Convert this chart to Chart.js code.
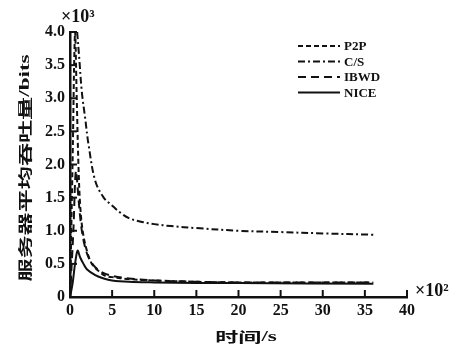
<!DOCTYPE html>
<html><head><meta charset="utf-8">
<script src="https://cdn.jsdelivr.net/npm/chart.js@4.4.1/dist/chart.umd.min.js"></script>
<style>html,body{margin:0;padding:0;background:#fff}#wrap{width:468px;height:351px}</style>
</head><body><div id="wrap"><canvas id="c" width="468" height="351"></canvas></div>
<script>
// time in units of 10^2 s, throughput in units of 10^3 bits
const p2pX  = [0, 0.3, 0.6, 0.8, 1.0, 1.2, 1.5, 2.0, 2.6, 3.5, 4.2, 5, 7, 10, 15, 20, 36];
const p2pY  = [0, 2.0, 4.0, 3.0, 2.0, 1.4, 1.0, 0.7, 0.5, 0.38, 0.32, 0.3, 0.27, 0.25, 0.23, 0.22, 0.22];
const csX   = [0.85, 1.1, 1.4, 1.8, 2.2, 3.0, 4.0, 5.0, 6.0, 7.0, 8.3, 10, 12, 15, 20, 25, 30, 36];
const csY   = [4.0, 3.6, 3.1, 2.7, 2.3, 1.75, 1.5, 1.38, 1.27, 1.19, 1.14, 1.1, 1.07, 1.04, 1.0, 0.98, 0.96, 0.94];
const ibwdX = [0, 0.4, 0.7, 1.0, 1.3, 1.7, 2.2, 3, 4, 5, 7, 10, 15, 20, 36];
const ibwdY = [0, 1.0, 1.9, 1.5, 1.1, 0.8, 0.6, 0.45, 0.36, 0.32, 0.28, 0.25, 0.23, 0.22, 0.22];
const niceX = [0, 0.3, 0.6, 0.9, 1.2, 1.6, 2, 3, 4, 5, 7, 10, 15, 20, 36];
const niceY = [0, 0.2, 0.5, 0.7, 0.6, 0.5, 0.42, 0.33, 0.28, 0.25, 0.23, 0.22, 0.21, 0.21, 0.2];
const seriesNames = ['P2P', 'C/S', 'IBWD', 'NICE'];
const xTicks = [0, 5, 10, 15, 20, 25, 30, 35, 40];
const yTicks = [0, 0.5, 1.0, 1.5, 2.0, 2.5, 3.0, 3.5, 4.0];
const xTitle = ['时间', '/s'];
const yTitle = ['服务器平均吞吐量', '/bits'];

const pts = (xs, ys) => xs.map((x, i) => ({x, y: ys[i]}));
const serif = '"Liberation Serif", "Times New Roman", serif';
const cjk = '"Noto Sans CJK SC", sans-serif';

const dashes = [[5,3],[7,3,2,3],[8,5],[]];
const ds = [pts(p2pX,p2pY), pts(csX,csY), pts(ibwdX,ibwdY), pts(niceX,niceY)].map((d,i)=>({
  label: seriesNames[i], data: d, borderColor:'#111', borderWidth: 2,
  borderDash: dashes[i], pointRadius:0, tension:0.35, fill:false
}));

function drawTitle(ctx, parts, cx, cy, rot){
  ctx.save();
  ctx.translate(cx, cy); ctx.rotate(rot); ctx.scale(1.65, 1);
  ctx.textBaseline='middle'; ctx.textAlign='left';
  const fonts = ['bold 14px '+cjk, 'bold 14px '+serif];
  let widths = parts.map((p,i)=>{ ctx.font=fonts[i]; return ctx.measureText(p).width; });
  let total = widths.reduce((a,b)=>a+b,0);
  let x = -total/2;
  parts.forEach((p,i)=>{ ctx.font=fonts[i]; ctx.fillText(p, x, 0); x += widths[i]; });
  ctx.restore();
}

const inwardTicks = {
  id:'inwardTicks',
  afterDraw(chart){
    const ctx = chart.ctx, a = chart.chartArea;
    ctx.save(); ctx.strokeStyle='#111'; ctx.lineWidth=2; ctx.setLineDash([]);
    const xs = chart.scales.x, ys = chart.scales.y;
    xs.ticks.forEach((t,i)=>{ const px = xs.getPixelForTick(i); ctx.beginPath(); ctx.moveTo(px,a.bottom); ctx.lineTo(px,a.bottom-7); ctx.stroke(); });
    ys.ticks.forEach((t,i)=>{ const py = ys.getPixelForTick(i); ctx.beginPath(); ctx.moveTo(a.left,py); ctx.lineTo(a.left+7,py); ctx.stroke(); });
    // multipliers
    ctx.fillStyle='#111'; ctx.font='bold 18px '+serif; ctx.textBaseline='alphabetic'; ctx.textAlign='left';
    ctx.fillText('×10³', a.left-9, a.top-10);
    ctx.fillText('×10²', a.right+8, a.bottom-1);
    // axis titles
    drawTitle(ctx, yTitle, 25, 168, -Math.PI/2);
    drawTitle(ctx, xTitle, 246, 337, 0);
    // legend
    ctx.font='bold 13px '+serif; ctx.textBaseline='middle';
    const lx = 298, ly = 46, lh = 15.5;
    chart.data.datasets.forEach((d,i)=>{
      const y = ly + i*lh;
      ctx.setLineDash(d.borderDash); ctx.lineWidth=2;
      ctx.beginPath(); ctx.moveTo(lx,y); ctx.lineTo(lx+42,y); ctx.stroke();
      ctx.setLineDash([]);
      ctx.fillText(d.label, lx+46, y+1);
    });
    ctx.restore();
  }
};

new Chart(document.getElementById('c'), {
  type:'line',
  data:{datasets: ds},
  options:{
    responsive:false, animation:false, events:[],
    layout:{padding:{left:0, right:61, top:32, bottom:0}},
    plugins:{legend:{display:false}, tooltip:{enabled:false}},
    scales:{
      x:{type:'linear', min:0, max:40,
        afterBuildTicks(s){ s.ticks = xTicks.map(v=>({value:v})); },
        grid:{drawOnChartArea:false, drawTicks:false},
        border:{display:true, color:'#111', width:2.5},
        ticks:{color:'#111', padding:4, font:{family:serif, size:16, weight:'bold'}, maxRotation:0},
        afterFit(s){ s.height = 54; }
      },
      y:{type:'linear', min:0, max:4,
        afterBuildTicks(s){ s.ticks = yTicks.map(v=>({value:v})); },
        grid:{drawOnChartArea:false, drawTicks:false},
        border:{display:true, color:'#111', width:2.5},
        ticks:{color:'#111', padding:5, font:{family:serif, size:16, weight:'bold'}, callback:v=> v===0?'0':v.toFixed(1)},
        afterFit(s){ s.width = 70; }
      }
    }
  },
  plugins:[inwardTicks]
});
</script></body></html>
